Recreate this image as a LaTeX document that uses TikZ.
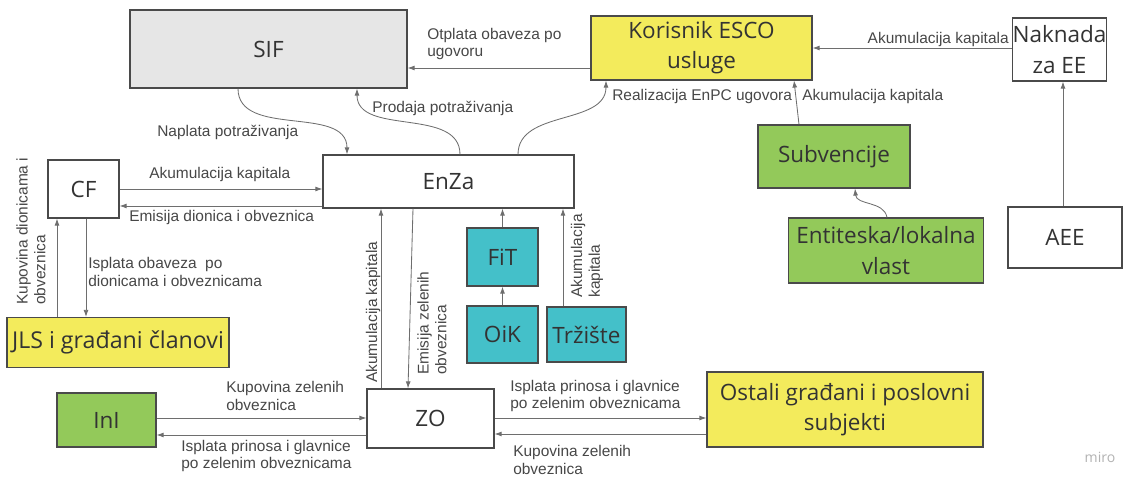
\documentclass[tikz,border=0pt]{standalone}
\usepackage{fontspec}
\setmainfont{Open Sans}
\newfontfamily\lblfont{Liberation Sans}
\usetikzlibrary{arrows.meta}
\definecolor{escoyellow}{HTML}{F3EB5C}
\definecolor{escogreen}{HTML}{93C95A}
\definecolor{escoteal}{HTML}{44C0C9}
\definecolor{escogray}{HTML}{E6E6E6}
\definecolor{boxline}{HTML}{4A4A4A}
\definecolor{flowline}{HTML}{6E6E6E}
\definecolor{lbltext}{HTML}{474747}

\begin{document}
\begin{tikzpicture}[x=0.025cm, y=-0.025cm,
	every node/.style={inner sep=0pt, align=center},
	box/.style 2 args={draw=boxline, line width=0.8pt, minimum width=#1*0.025cm, minimum height=#2*0.025cm, font=\fontsize{16}{21.5}\selectfont, text=black!80},
	lbl/.style={font=\lblfont\fontsize{11}{12.5}\selectfont, text=lbltext, align=left},
	flow/.style={draw=flowline, line width=0.6pt, -{Latex[length=5pt,width=3.5pt]}}]
	\useasboundingbox (0,0) rectangle (1133,477);
	\node[box={277}{78}, fill=escogray] (sif) at (268.5,49) {SIF};
	\node[box={221}{64}, fill=escoyellow] (kor) at (701.5,48) {Korisnik ESCO\\usluge};
	\node[box={92}{63}, fill=white] (nak) at (1059.5,49.5) {Naknada\\za EE};
	\node[box={71}{58}, fill=white] (cf) at (83.5,189) {CF};
	\node[box={251}{53}, fill=white] (enza) at (448.5,181.5) {EnZa};
	\node[box={152}{63}, fill=escogreen] (sub) at (834,156.5) {Subvencije};
	\node[box={195}{65}, fill=escogreen] (ent) at (886,250.5) {Entiteska/lokalna\\vlast};
	\node[box={114}{61}, fill=white] (aee) at (1065,237.5) {AEE};
	\node[box={71}{58}, fill=escoteal] (fit) at (502.5,257) {FiT};
	\node[box={71}{57}, fill=escoteal] (oik) at (502.5,334.5) {OiK};
	\node[box={79}{55}, fill=escoteal] (trz) at (586.5,334.5) {Tržište};
	\node[box={222}{50}, fill=escoyellow, font=\fontsize{16.5}{21.5}\selectfont] (jls) at (118,342.5) {JLS i građani članovi};
	\node[box={99}{54}, fill=escogreen] (ini) at (106.5,420) {InI};
	\node[box={127}{59}, fill=white] (zo) at (430.5,418.5) {ZO};
	\node[box={276}{75}, fill=escoyellow] (ost) at (845,409.5) {Ostali građani i poslovni\\subjekti};

	\draw[flow] (kor.west |- 0,68) -- (sif.east |- 0,68);
	\draw[flow] (nak.west |- 0,48) -- (kor.east |- 0,48);
	\draw[flow] (sub.north -| 799,0) -- (kor.south -| 794,0);
	\draw[flow] (enza.north -| 518,0) to[out=90, in=-90] (kor.south -| 606,0);
	\draw[flow] (enza.north -| 460,0) to[out=90, in=-90] (sif.south -| 357,0);
	\draw[flow] (sif.south -| 238,0) to[out=-90, in=90] (enza.north -| 347,0);
	\draw[flow] (cf.east |- 0,189) -- (enza.west |- 0,189);
	\draw[flow] (enza.west |- 0,206) -- (cf.east |- 0,206);
	\draw[flow] (jls.north -| 57,0) -- (cf.south -| 57,0);
	\draw[flow] (cf.south -| 86,0) -- (jls.north -| 86,0);
	\draw[flow] (zo.north -| 381,0) -- (enza.south -| 381,0);
	\draw[flow] (enza.south -| 413,0) -- (zo.north -| 408,0);
	\draw[flow] (fit.north) -- (fit.north |- enza.south);
	\draw[flow] (oik.north) -- (fit.south);
	\draw[flow] (trz.north -| 563,0) -- (enza.south -| 563,0);
	\draw[flow] (ini.east |- 0,418) -- (zo.west |- 0,418);
	\draw[flow] (zo.west |- 0,435) -- (ini.east |- 0,435);
	\draw[flow] (zo.east |- 0,418) -- (ost.west |- 0,418);
	\draw[flow] (ost.west |- 0,434) -- (zo.east |- 0,434);
	\draw[flow] (ent.north -| 887,0) to[out=100, in=-85] (sub.south -| 855,0);
	\draw[flow] (aee.north -| 1063,0) -- (nak.south -| 1063,0);

	\node[lbl, anchor=west] (lotp) at (427,44) {Otplata obaveza po\\ugovoru};
	\node[lbl, anchor=east] (lnak) at (1009,40) {Akumulacija kapitala};
	\node[lbl, anchor=west] (lreal) at (612,97) {Realizacija EnPC ugovora};
	\node[lbl, anchor=west] (lsub) at (802,97) {Akumulacija kapitala};
	\node[lbl, anchor=west] (lprod) at (372,108) {Prodaja potraživanja};
	\node[lbl, anchor=west] (lnap) at (157,132) {Naplata potraživanja};
	\node[lbl, anchor=west] (lcfak) at (149,175) {Akumulacija kapitala};
	\node[lbl, anchor=west] (lcfem) at (129,218) {Emisija dionica i obveznica};
	\node[lbl, anchor=west] (lisp) at (88,272) {Isplata obaveza~ po\\dionicama i obveznicama};
	\node[lbl, anchor=west, rotate=90] (lkup) at (31,305) {Kupovina dionicama i\\obveznica};
	\node[lbl, anchor=west, rotate=90] (lzoak) at (373,383) {Akumulacija kapitala};
	\node[lbl, anchor=west, rotate=90] (lzoem) at (432,375) {Emisija zelenih\\obveznica};
	\node[lbl, anchor=west, rotate=90] (ltrz) at (587,298) {Akumulacija\\kapitala};
	\node[lbl, anchor=west] (linikup) at (226,396) {Kupovina zelenih\\obveznica};
	\node[lbl, anchor=west] (liniisp) at (181,456) {Isplata prinosa i glavnice\\po zelenim obveznicama};
	\node[lbl, anchor=west] (lostisp) at (510,396) {Isplata prinosa i glavnice\\po zelenim obveznicama};
	\node[lbl, anchor=west] (lostkup) at (513,460) {Kupovina zelenih\\obveznica};
	\node[font=\fontsize{10}{12}\selectfont, text=black!30] (miro) at (1100,457) {miro};
\end{tikzpicture}
\end{document}
